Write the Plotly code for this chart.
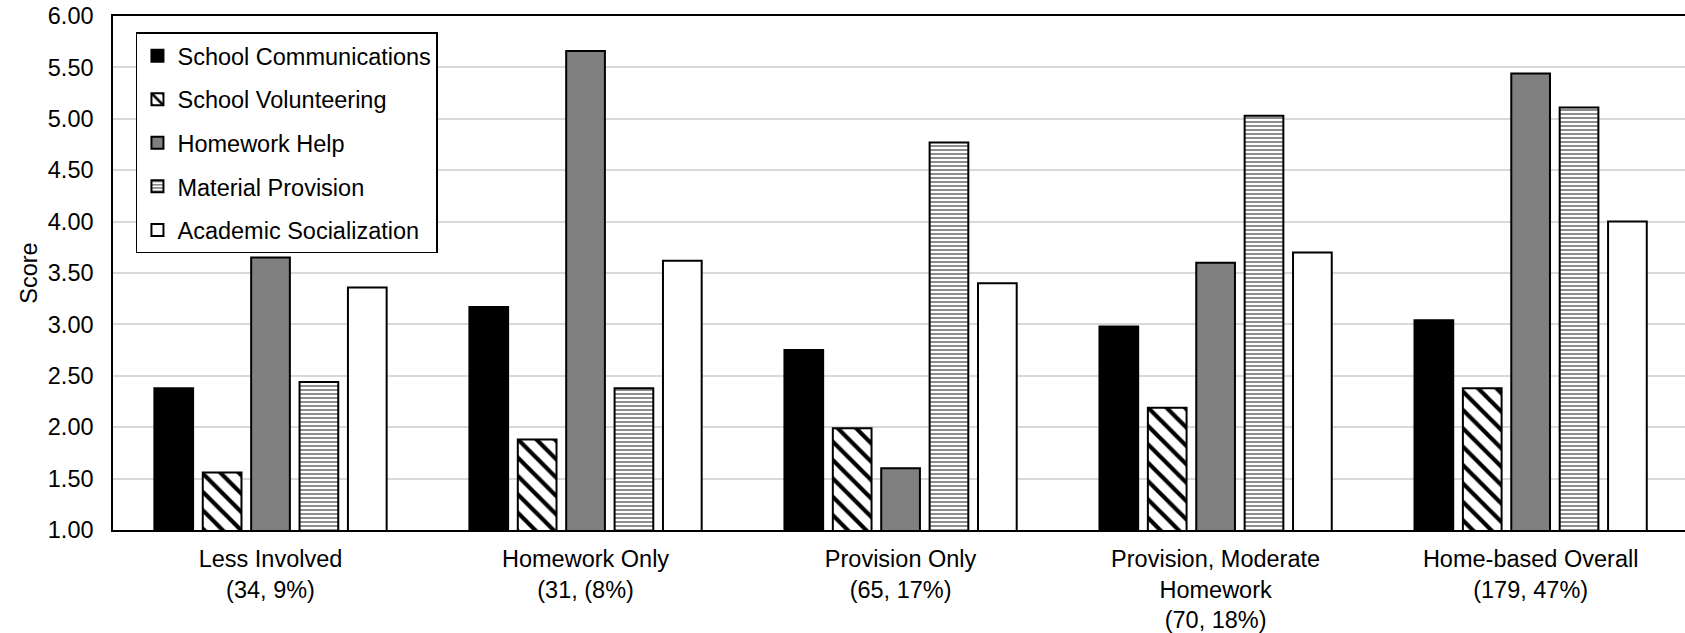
import plotly.graph_objects as go

# Category labels (profile name, n and share of sample)
categories = [
    "Less Involved<br>(34, 9%)",
    "Homework Only<br>(31, (8%)",
    "Provision Only<br>(65, 17%)",
    "Provision, Moderate<br>Homework<br>(70, 18%)",
    "Home-based Overall<br>(179, 47%)",
]

# Mean scores per involvement dimension
school_communications = [2.38, 3.17, 2.75, 2.98, 3.04]
school_volunteering = [1.56, 1.88, 1.99, 2.19, 2.38]
homework_help = [3.65, 5.66, 1.60, 3.60, 5.44]
material_provision = [2.44, 2.38, 4.77, 5.03, 5.11]
academic_socialization = [3.36, 3.62, 3.40, 3.70, 4.00]

y_ticks = [1.0, 1.5, 2.0, 2.5, 3.0, 3.5, 4.0, 4.5, 5.0, 5.5, 6.0]

FONT = "Arial, Liberation Sans, sans-serif"
FS = 23.5

series = [
    ("School Communications", school_communications,
     dict(color="#000000")),
    ("School Volunteering", school_volunteering,
     dict(color="#ffffff",
          pattern=dict(shape="\\", fgcolor="#000000", bgcolor="#ffffff",
                       size=13, solidity=0.32, fillmode="replace"))),
    ("Homework Help", homework_help,
     dict(color="#808080")),
    ("Material Provision", material_provision,
     dict(color="#ffffff",
          pattern=dict(shape="-", fgcolor="#808080", bgcolor="#ffffff",
                       size=4, solidity=0.45, fillmode="replace"))),
    ("Academic Socialization", academic_socialization,
     dict(color="#ffffff")),
]

fig = go.Figure()
for i, (name, vals, mk) in enumerate(series):
    mk = dict(mk)
    mk["line"] = dict(color="#000000", width=2)
    fig.add_trace(go.Bar(
        name=name,
        x=categories,
        y=vals,
        base=0,
        marker=mk,
        legendgroup=f"g{i}",
    ))

fig.update_layout(
    width=1685,
    height=633,
    margin=dict(l=113, r=0, t=16, b=100),
    paper_bgcolor="#ffffff",
    plot_bgcolor="#ffffff",
    barmode="group",
    bargap=0.232,
    bargroupgap=0.2,
    font=dict(family=FONT, size=FS, color="#000000"),
    showlegend=True,
    legend=dict(
        x=0.0146,
        y=0.968,
        xanchor="left",
        yanchor="top",
        bgcolor="#ffffff",
        bordercolor="#000000",
        borderwidth=1.5,
        font=dict(family=FONT, size=FS, color="#000000"),
        tracegroupgap=10,
        itemwidth=30,
    ),
    xaxis=dict(
        range=[-0.5, 4.49],
        showline=True,
        linecolor="#000000",
        linewidth=2,
        mirror=True,
        showgrid=False,
        ticks="",
        ticklabelstandoff=7,
        tickfont=dict(family=FONT, size=FS, color="#000000"),
    ),
    yaxis=dict(
        range=[1, 6],
        tickvals=y_ticks,
        tickformat=".2f",
        showline=True,
        linecolor="#000000",
        linewidth=1.5,
        showgrid=True,
        gridcolor="#d9d9d9",
        gridwidth=1.5,
        zeroline=False,
        ticks="",
        ticklabelstandoff=13,
        tickfont=dict(family=FONT, size=FS, color="#000000"),
        title=dict(text="Score", font=dict(family=FONT, size=FS, color="#000000"),
                   standoff=4),
    ),
)

fig.write_html("out.html")
